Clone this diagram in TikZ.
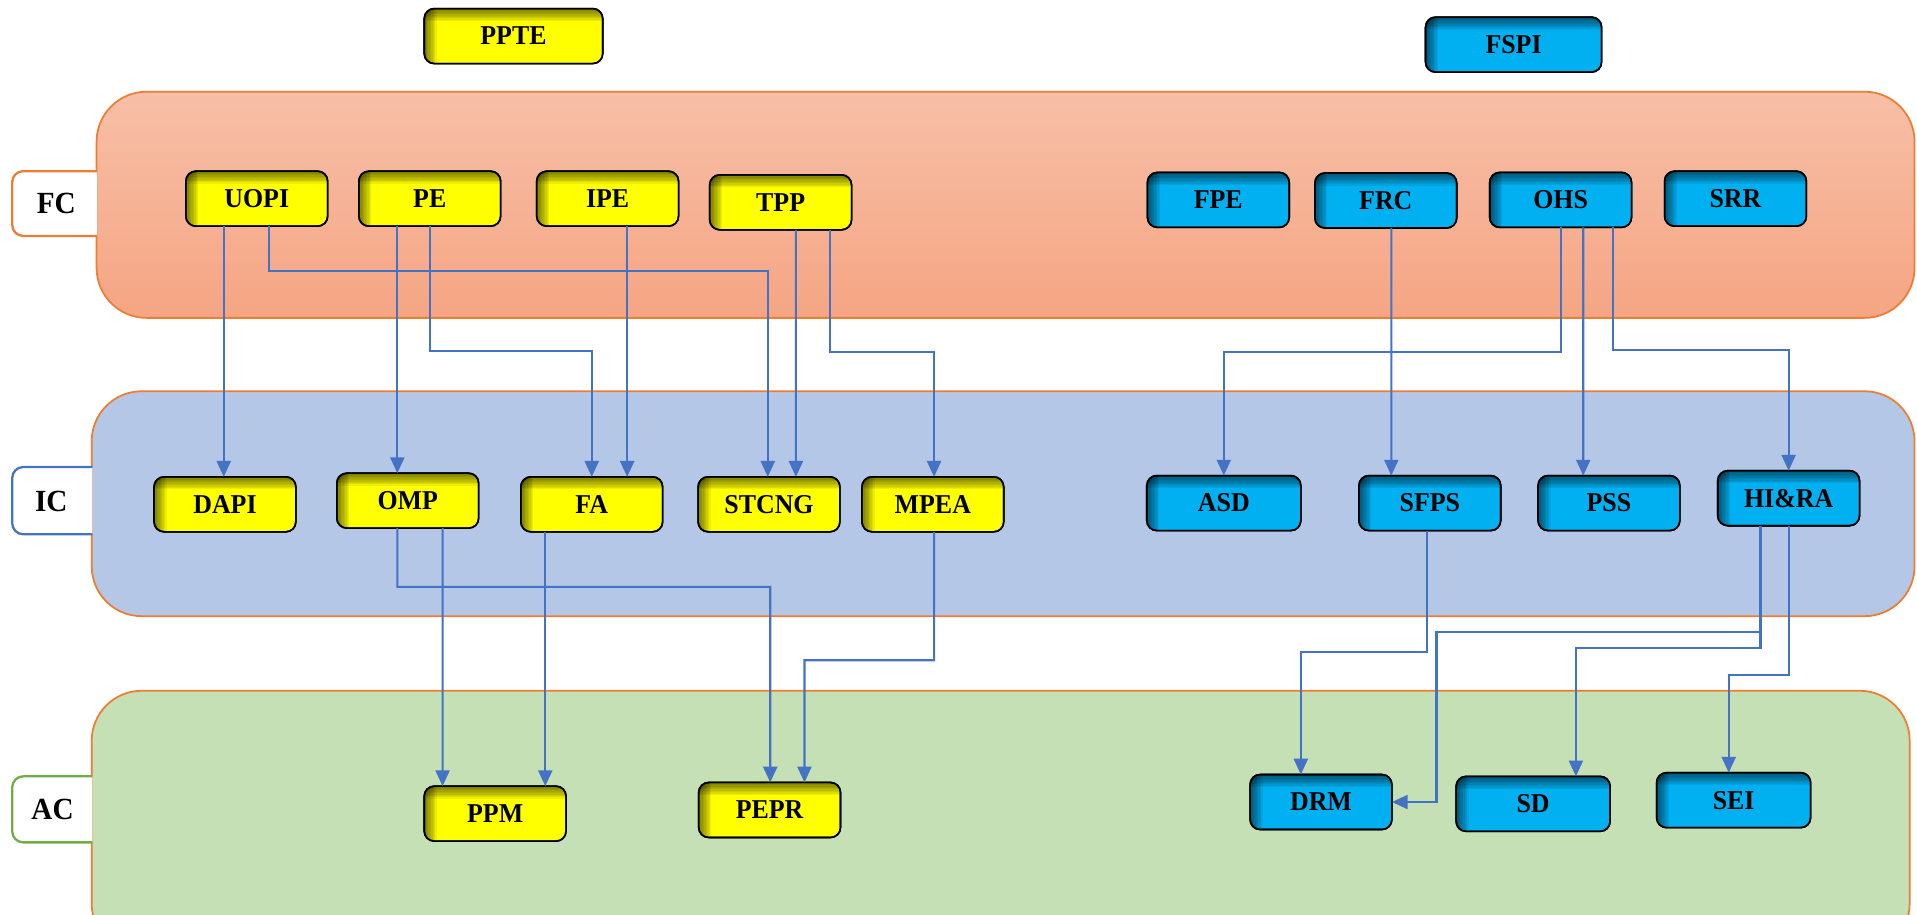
\documentclass[tikz,border=0pt]{standalone}
\usepackage{fontspec}
\newfontfamily\boxfont[FakeStretch=0.95]{Liberation Serif}
\usetikzlibrary{calc,arrows.meta}
\definecolor{connblue}{HTML}{4472C4}
\definecolor{boxyellow}{HTML}{FFFF00}
\definecolor{boxblue}{HTML}{00B0F0}
\definecolor{bandorange}{HTML}{ED7D31}
\definecolor{labblue}{HTML}{4472C4}
\definecolor{labgreen}{HTML}{70AD47}
\definecolor{fctop}{HTML}{F7BFA7}
\definecolor{fcbot}{HTML}{F5A583}
\definecolor{icfill}{HTML}{B4C7E7}
\definecolor{acfill}{HTML}{C5E0B4}
\tikzset{
  box/.style={draw=black, line width=0.9pt, rounded corners=0.2cm, outer sep=0pt,
    minimum width=2.836cm, minimum height=1.1cm, inner sep=0pt,
    font=\boxfont\bfseries\fontsize{15.5}{17}\selectfont},
  ybox/.style={box, fill=boxyellow},
  bbox/.style={box, fill=boxblue},
  shadelayer/.style={fill=black, opacity=0.07, sharp corners},
  boxrim/.style={draw=black, line width=0.9pt, rounded corners=0.2cm},
  conn/.style={draw=connblue, line width=1.2pt, -{Triangle[width=8pt,length=9pt]}},
  band/.style={draw=bandorange, line width=1pt, rounded corners=1cm},
  sidebox/.style={fill=white, line width=1.3pt, rounded corners=0.22cm},
  sidetext/.style={font=\boxfont\bfseries\fontsize{17.5}{19}\selectfont, inner sep=0pt}
}
\begin{document}
\begin{tikzpicture}[x=0.024451cm, y=-0.024451cm]
\useasboundingbox (0,0) rectangle (1568,748);
\clip (0,0) rectangle (1568,748);
% bands
\path[band, top color=fctop, bottom color=fcbot] (79,75) rectangle (1566,260);
\path[band, fill=icfill] (75,320) rectangle (1566,504);
\path[band, fill=acfill] (75,565) rectangle (1562,780);
% side labels
\draw[sidebox, draw=bandorange] (79.5,140) -- (10,140) -- (10,193) -- (79.5,193);
\draw[sidebox, draw=labblue] (75.5,382) -- (10,382) -- (10,437) -- (75.5,437);
\draw[sidebox, draw=labgreen] (75.5,635) -- (10,635) -- (10,689) -- (75.5,689);
\node[sidetext] (FC) at (46,166.5) {FC};
\node[sidetext] (IC) at (42,410) {IC};
\node[sidetext] (AC) at (43,662) {AC};
% top nodes
\node[ybox, minimum width=3.57cm] (PPTE) at (420,29.5) {PPTE};
\node[bbox, minimum width=3.52cm] (FSPI) at (1238,36.5) {FSPI};
% FC row
\node[ybox] (UOPI) at (210,162.5) {UOPI};
\node[ybox] (PE) at (351.5,162.5) {PE};
\node[ybox] (IPE) at (497,162.5) {IPE};
\node[ybox] (TPP) at (638.5,165.5) {TPP};
\node[bbox] (FPE) at (996.5,163.5) {FPE};
\node[bbox] (FRC) at (1133.5,164) {FRC};
\node[bbox] (OHS) at (1276.5,163.5) {OHS};
\node[bbox] (SRR) at (1419.5,162.5) {SRR};
% IC row
\node[ybox] (DAPI) at (184,412.5) {DAPI};
\node[ybox] (OMP) at (333.5,409.5) {OMP};
\node[ybox] (FA) at (484,412.5) {FA};
\node[ybox] (STCNG) at (629,412.5) {STCNG};
\node[ybox] (MPEA) at (763,412.5) {MPEA};
\node[bbox, minimum width=3.08cm] (ASD) at (1001,411.5) {ASD};
\node[bbox] (SFPS) at (1169.5,411.5) {SFPS};
\node[bbox] (PSS) at (1316,411.5) {PSS};
\node[bbox] (HIRA) at (1463,407.5) {HI\&RA};
% AC row
\node[ybox] (PPM) at (405,665.5) {PPM};
\node[ybox] (PEPR) at (629.5,662.5) {PEPR};
\node[bbox] (DRM) at (1080.5,656) {DRM};
\node[bbox, minimum width=3.08cm] (SD) at (1254,657.5) {SD};
\node[bbox, minimum width=3.08cm] (SEI) at (1418,654.5) {SEI};
% inner shadow along top and left edges of every box
\foreach \n in {PPTE,FSPI,UOPI,PE,IPE,TPP,FPE,FRC,OHS,SRR,DAPI,OMP,FA,STCNG,MPEA,ASD,SFPS,PSS,HIRA,PPM,PEPR,DRM,SD,SEI}{
  \begin{scope}
    \clip[rounded corners=0.2cm] (\n.south west) rectangle (\n.north east);
    \foreach \k in {1,...,9}{
      \path[shadelayer] (\n.south west) rectangle ([xshift=\k*0.028cm]\n.north west);
      \path[shadelayer] ([yshift=-\k*0.028cm]\n.north west) rectangle (\n.north east);
    }
  \end{scope}
  \path[boxrim] (\n.south west) rectangle (\n.north east);
}
% connectors
\draw[conn] ($(UOPI.south)+(-27,0)$) -- ($(DAPI.north)+(-1,0)$);
\draw[conn] ($(UOPI.south)+(10,0)$) |- (628,222) -- ($(STCNG.north)+(-1,0)$);
\draw[conn] ($(PE.south)+(-26.5,0)$) -- ($(OMP.north)+(-8.5,0)$);
\draw[conn] (PE.south) |- (484,287) -- (FA.north);
\draw[conn] ($(IPE.south)+(16,0)$) -- ($(FA.north)+(29,0)$);
\draw[conn] ($(TPP.south)+(12.5,0)$) -- ($(STCNG.north)+(22,0)$);
\draw[conn] ($(TPP.south)+(40.5,0)$) |- (764,288) -- ($(MPEA.north)+(1,0)$);
\draw[conn] ($(OMP.south)+(-8.5,0)$) |- (630,480) -- ($(PEPR.north)+(0.5,0)$);
\draw[conn] ($(OMP.south)+(28.5,0)$) -- ($(PPM.north)+(-43,0)$);
\draw[conn] ($(FA.south)+(-38,0)$) -- ($(PPM.north)+(41,0)$);
\draw[conn] ($(MPEA.south)+(1,0)$) |- (658,540) -- ($(PEPR.north)+(28.5,0)$);
\draw[conn] ($(FRC.south)+(4.5,0)$) -- ($(SFPS.north)+(-31.5,0)$);
\draw[conn] (OHS.south) |- (1001,288) -- (ASD.north);
\draw[conn] ($(OHS.south)+(18.5,0)$) -- ($(PSS.north)+(-21,0)$);
\draw[conn] ($(OHS.south)+(42.5,0)$) |- (1463,286) -- (HIRA.north);
\draw[conn] ($(SFPS.south)+(-2.5,0)$) |- (1064,533) -- ($(DRM.north)+(-16.5,0)$);
\draw[conn] ($(HIRA.south)+(-23,0)$) |- (1175,517) |- (DRM.east);
\draw[conn] ($(HIRA.south)+(-23,0)$) |- (1289,530) -- ($(SD.north)+(35,0)$);
\draw[conn] (HIRA.south) |- (1414,552) -- ($(SEI.north)+(-4,0)$);
\end{tikzpicture}
\end{document}
